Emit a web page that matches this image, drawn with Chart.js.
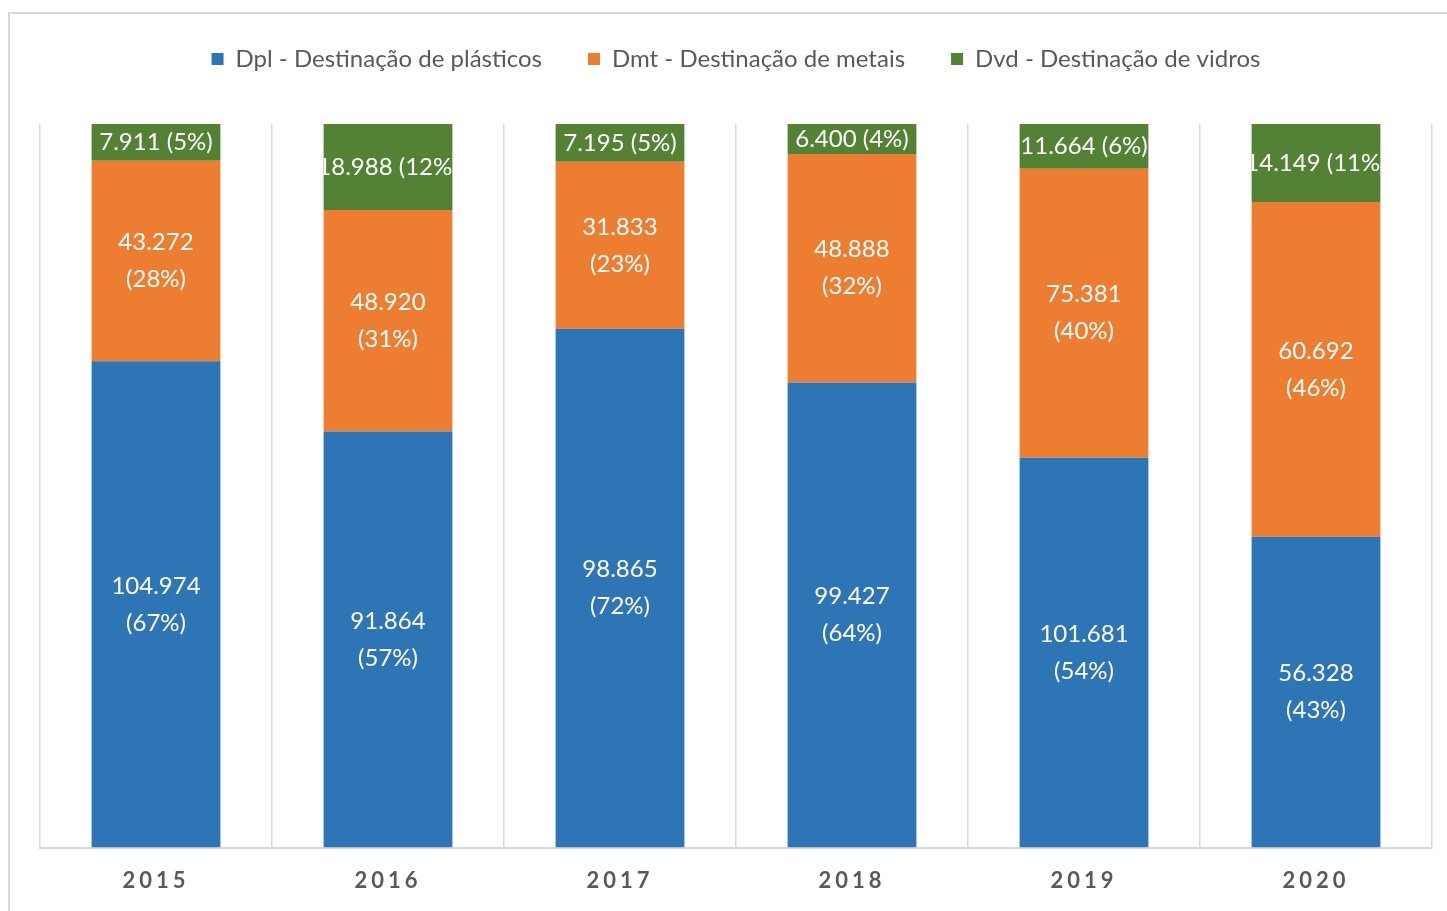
<!DOCTYPE html>
<html><head><meta charset="utf-8">
<script src="https://cdn.jsdelivr.net/npm/chart.js@4/dist/chart.umd.min.js"></script>
<style>
html,body{margin:0;padding:0;background:#fff;overflow:hidden;width:1447px;height:911px;}
#frame{position:absolute;left:8px;top:12px;width:1460px;height:930px;border-left:2px solid #d9d9d9;border-top:2px solid #d9d9d9;box-sizing:border-box;}
canvas{position:absolute;left:0;top:0;}
</style></head><body>
<div id="frame"></div>
<canvas id="c" width="1447" height="911"></canvas>
<script>
const years = ['2015', '2016', '2017', '2018', '2019', '2020'];
const seriesNames = ['Dpl - Destinação de plásticos', 'Dmt - Destinação de metais', 'Dvd - Destinação de vidros'];
const plasticos = [104974, 91864, 98865, 99427, 101681, 56328];
const metais = [43272, 48920, 31833, 48888, 75381, 60692];
const vidros = [7911, 18988, 7195, 6400, 11664, 14149];
const colors = ['#2E75B6', '#ED7D31', '#548235'];

const raw = [plasticos, metais, vidros];
const totals = years.map((_, i) => plasticos[i] + metais[i] + vidros[i]);
const pcts = raw.map(arr => arr.map((v, i) => v / totals[i] * 100));

function fmt(n) { return String(n).replace(/\B(?=(\d{3})+(?!\d))/g, '.'); }

const labelPlugin = {
  id: 'segLabels',
  beforeDraw(chart) { chart.ctx.letterSpacing = '0px'; },
  afterDatasetsDraw(chart) {
    const ctx = chart.ctx;
    chart.data.datasets.forEach((ds, di) => {
      const meta = chart.getDatasetMeta(di);
      meta.data.forEach((bar, i) => {
        const p = bar.getProps(['x', 'y', 'base', 'width'], true);
        const top = Math.min(p.y, p.base), bot = Math.max(p.y, p.base);
        const cy = (top + bot) / 2;
        ctx.save();
        ctx.beginPath();
        ctx.rect(p.x - p.width / 2, top, p.width, bot - top);
        ctx.clip();
        ctx.font = '24px Lato';
        ctx.fillStyle = '#ffffff';
        ctx.textAlign = 'center';
        ctx.textBaseline = 'middle';
        const val = fmt(raw[di][i]);
        const pc = '(' + Math.round(pcts[di][i]) + '%)';
        if (di === 2) {
          ctx.fillText(val + ' ' + pc, p.x, cy);
        } else {
          ctx.fillText(val, p.x, cy - 18.5);
          ctx.fillText(pc, p.x, cy + 18.5);
        }
        ctx.restore();
      });
    });
    ctx.letterSpacing = '4px';
  },
  afterDraw(chart) { chart.ctx.letterSpacing = '0px'; }
};

const legendGap = {
  id: 'legendGap',
  beforeInit(chart) {
    const fit = chart.legend.fit;
    chart.legend.fit = function () { fit.call(this); this.height += 43; };
  }
};

function build() {
  new Chart(document.getElementById('c'), {
    type: 'bar',
    data: {
      labels: years,
      datasets: seriesNames.map((name, di) => ({
        label: name,
        data: pcts[di],
        backgroundColor: colors[di],
        borderWidth: 0,
        categoryPercentage: 1,
        barPercentage: 0.555
      }))
    },
    options: {
      responsive: false,
      animation: false,
      devicePixelRatio: 1,
      layout: { padding: { left: 40, right: 15, top: 1, bottom: -3 } },
      plugins: {
        tooltip: { enabled: false },
        legend: {
          position: 'top',
          labels: {
            boxWidth: 12, boxHeight: 12, padding: 46,
            color: '#595959',
            font: { family: 'Lato', size: 24 }
          }
        }
      },
      scales: {
        x: {
          stacked: true,
          grid: { display: true, color: '#d9d9d9', lineWidth: 1.5, drawTicks: false, offset: true },
          border: { display: true, color: '#d9d9d9', width: 2 },
          ticks: { z: 1, padding: 20, color: '#595959', font: { family: 'Lato', size: 22, weight: 'bold' } }
        },
        y: {
          stacked: true, display: false, min: 0, max: 100,
          grid: { display: false }
        }
      }
    },
    plugins: [labelPlugin, legendGap]
  });
}

Promise.all([
  document.fonts.load('24px Lato'),
  document.fonts.load('bold 22px Lato')
]).catch(() => {}).then(build);
</script>
</body></html>
